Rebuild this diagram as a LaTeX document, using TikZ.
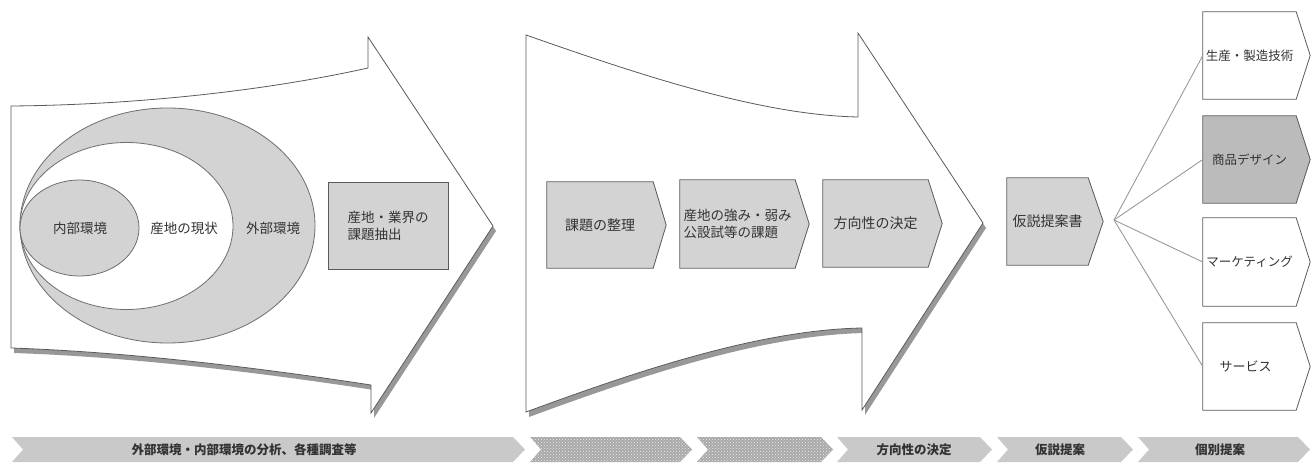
\documentclass[tikz,border=0pt]{standalone}
\usepackage{fontspec}
\setmainfont{Noto Sans CJK JP}
\usetikzlibrary{patterns}
\definecolor{fillg}{HTML}{D3D3D3}
\definecolor{darkg}{HTML}{BBBBBB}
\definecolor{lineg}{HTML}{5A5A5A}
\definecolor{ellg}{HTML}{6E6E6E}
\definecolor{shadowg}{HTML}{989898}
\definecolor{bandg}{HTML}{C9C9C9}
\definecolor{noiseg}{HTML}{A9A9A9}
\definecolor{txt}{HTML}{333333}
\newcommand{\bandseg}[3]{\path[#1] (#2,437) -- ++(#3,0) -- ++(12,12.5) -- ++(-12,12.5) -- ++(-#3,0) -- ++(11,-12.5) -- cycle;}
% #1 name, #2 fill, #3 centre of body, #4 body width, #5 height, #6 tip depth, #7 font size, #8 text
\newcommand{\chevbox}[8]{%
  \node[chevtxt, fill=#2, minimum width=#4, minimum height=#5, font=\fontsize{#7}{17}\selectfont] (#1) at (#3) {#8};
  \filldraw[#2, line width=.3pt] (#1.north east) -- ([xshift=#6]#1.east) -- (#1.south east) -- cycle;
  \draw[chevline] (#1.north west) -- (#1.north east) -- ([xshift=#6]#1.east) -- (#1.south east) -- (#1.south west) -- cycle;}
\begin{document}
\begin{tikzpicture}[x=1pt,y=-1pt,
  lbl/.style={font=\fontsize{13.5}{17}\selectfont, text=txt, inner sep=0pt},
  blbl/.style={font=\fontsize{12.5}{15}\selectfont\bfseries, text=txt, inner sep=0pt},
  arrowbody/.style={fill=white, draw=lineg, line width=0.8pt, line join=miter},
  shadow/.style={fill=shadowg, shift={(3,5)}},
  ring/.style={fill=fillg, draw=ellg, line width=0.8pt},
  chevtxt/.style={inner sep=0pt, text=txt, align=left},
  chevline/.style={draw=lineg, line width=0.8pt, line join=miter},
  fanline/.style={draw=gray!80, line width=0.9pt},
  band/.style={fill=bandg},
  noise/.style={fill=noiseg, postaction={pattern=crosshatch dots, pattern color=white!85!gray}}
]
\useasboundingbox (0,0) rectangle (1312,465);

% ---------- left arrow ----------
\fill[shadow] (11,106) .. controls (130,105) and (260,92) .. (368,68) -- (368,37) -- (493,226)
  -- (371,413) -- (371,385) .. controls (260,368) and (130,352) .. (11,348) -- cycle;
\path[arrowbody] (11,106) .. controls (130,105) and (260,92) .. (368,68) -- (368,37) -- (493,226)
  -- (371,413) -- (371,385) .. controls (260,368) and (130,352) .. (11,348) -- cycle;

\draw[ring] (167.5,225.5) ellipse [x radius=147.5pt, y radius=117.5pt];
\draw[fill=white, draw=ellg, line width=0.8pt] (126.5,226) ellipse [x radius=106.5pt, y radius=83.5pt];
\draw[ring] (79.5,228) ellipse [x radius=59.5pt, y radius=48pt];

\node[lbl] (naibu) at (80,228) {内部環境};
\node[lbl] (genjo) at (184,228) {産地の現状};
\node[lbl] (gaibu) at (273,228) {外部環境};

\node[draw=lineg, line width=0.8pt, fill=fillg, minimum width=120pt, minimum height=87pt,
      align=left, lbl] (kadai) at (388,225.5) {産地・業界の\\課題抽出};

% ---------- middle arrow ----------
\fill[shadow] (526,35) .. controls (640,75) and (760,115) .. (858,117) -- (858,33) -- (983,223)
  -- (862,410) -- (862,328) .. controls (760,330) and (640,370) .. (526,412) -- cycle;
\path[arrowbody] (526,35) .. controls (640,75) and (760,115) .. (858,117) -- (858,33) -- (983,223)
  -- (862,410) -- (862,328) .. controls (760,330) and (640,370) .. (526,412) -- cycle;

\chevbox{seiri}{fillg}{600,225}{106pt}{86pt}{13pt}{14}{課題の整理}
\chevbox{tsuyomi}{fillg}{737.5,224}{115pt}{88pt}{14pt}{13.5}{産地の強み・弱み\\公設試等の課題}
\chevbox{hoko}{fillg}{875.5,223.5}{105pt}{87pt}{14pt}{14}{方向性の決定}

% ---------- right side ----------
\chevbox{kasetsu}{fillg}{1047.5,221.5}{81pt}{87pt}{15pt}{14}{仮説提案書}
\coordinate (fan) at (1114,220);

\chevbox{seisan}{white}{1249.5,55.5}{93pt}{87pt}{14pt}{12.5}{生産・製造技術}
\chevbox{shohin}{darkg}{1249.5,159.5}{93pt}{87pt}{14pt}{12.5}{商品デザイン}
\chevbox{market}{white}{1249.5,262}{93pt}{88pt}{14pt}{12.5}{マーケティング}
\chevbox{service}{white}{1249.5,366.5}{93pt}{87pt}{14pt}{13}{サービス\hspace*{8pt}}

\draw[fanline] (fan) -- (seisan.west);
\draw[fanline] (fan) -- (shohin.west);
\draw[fanline] (fan) -- (market.west);
\draw[fanline] (fan) -- (service.west);

% ---------- bottom band ----------
\bandseg{band}{12}{501}
\bandseg{noise}{530}{150}
\bandseg{noise}{697}{124}
\bandseg{band}{837}{143}
\bandseg{band}{997}{124}
\bandseg{band}{1138}{160}

\node[blbl] (b1) at (244,449.5) {外部環境・内部環境の分析、各種調査等};
\node[blbl] (b4) at (914,449.5) {方向性の決定};
\node[blbl] (b5) at (1060,449.5) {仮説提案};
\node[blbl] (b6) at (1220,449.5) {個別提案};
\end{tikzpicture}
\end{document}
